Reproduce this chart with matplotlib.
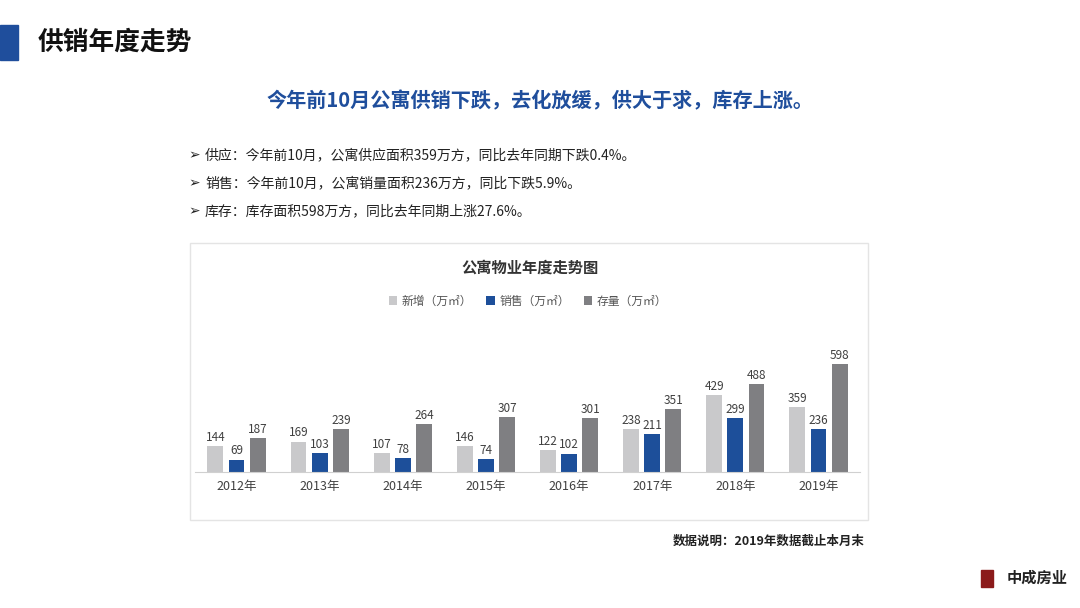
import matplotlib
matplotlib.use("Agg")
import matplotlib.pyplot as plt
from matplotlib.patches import Rectangle
import numpy as np

plt.rcParams["font.family"] = ["Noto Sans CJK SC", "DejaVu Sans"]

years = ["2012年", "2013年", "2014年", "2015年", "2016年", "2017年", "2018年", "2019年"]
new_supply = [144, 169, 107, 146, 122, 238, 429, 359]
sales = [69, 103, 78, 74, 102, 211, 299, 236]
stock = [187, 239, 264, 307, 301, 351, 488, 598]
series_names = ["新增（万㎡）", "销售（万㎡）", "存量（万㎡）"]
colors = ["#c9c9cb", "#1d4f9a", "#7f7f82"]

W, H = 1080, 608
fig = plt.figure(figsize=(10.8, 6.08), dpi=100)
fig.patch.set_facecolor("white")

def fx(x): return x / W
def fy(y): return 1 - y / H

# header
fig.patches.append(Rectangle((0, fy(60)), fx(18), 35 / H, transform=fig.transFigure, color="#1f4e9c"))
fig.text(fx(38), fy(42), "供销年度走势", fontsize=18.5, fontweight="bold", va="center", color="#111111")
fig.text(fx(540), fy(101), "今年前10月公寓供销下跌，去化放缓，供大于求，库存上涨。",
         fontsize=14.5, fontweight="bold", color="#1f4e9c", ha="center", va="center")
bullets = ["供应：今年前10月，公寓供应面积359万方，同比去年同期下跌0.4%。",
           "销售：今年前10月，公寓销量面积236万方，同比下跌5.9%。",
           "库存：库存面积598万方，同比去年同期上涨27.6%。"]
for i, b in enumerate(bullets):
    fig.text(fx(188), fy(155 + 28 * i), "➢", fontsize=10, va="center", color="#222222", fontfamily="DejaVu Sans")
    fig.text(fx(205), fy(155 + 28 * i), b, fontsize=10, va="center", color="#222222")

# chart panel
fig.patches.append(Rectangle((fx(190), fy(520)), fx(678), 277 / H, transform=fig.transFigure,
                             facecolor="white", edgecolor="#e4e4e4", lw=1, zorder=-5))
fig.text(fx(530), fy(268), "公寓物业年度走势图", fontsize=11, fontweight="bold", ha="center", va="center", color="#333333")

ax = fig.add_axes([fx(195), fy(472), fx(665), (472 - 330) / H])
ax.set_zorder(2)
x = np.arange(len(years))
w = 0.19
off = 0.255
for k, (vals, c, name) in enumerate(zip([new_supply, sales, stock], colors, series_names)):
    ax.bar(x + (k - 1) * off, vals, w, color=c, label=name)
    for xi, v in zip(x + (k - 1) * off, vals):
        ax.text(xi, v + 12, str(v), ha="center", va="bottom", fontsize=8.5, color="#404040")
ax.set_xlim(-0.5, 7.5)
ax.set_ylim(0, 788)
ax.set_xticks(x)
ax.set_xticklabels(years, fontsize=9, color="#404040")
ax.tick_params(axis="x", length=0, pad=6)
ax.set_yticks([])
for s in ["top", "right", "left"]:
    ax.spines[s].set_visible(False)
ax.spines["bottom"].set_color("#d0d0d0")
ax.patch.set_alpha(0)
fig.legend(loc="center", bbox_to_anchor=(fx(528), fy(301)), ncol=3, frameon=False, fontsize=8.5,
           handlelength=0.7, handleheight=0.7, columnspacing=1.2, handletextpad=0.4, labelcolor="#555555")

fig.text(fx(865), fy(541), "数据说明：2019年数据截止本月末", fontsize=9, fontweight="bold", ha="right", va="center", color="#222222")
fig.text(fx(1068), fy(578), "中成房业", fontsize=11, fontweight="bold", ha="right", va="center", color="#222222")
fig.patches.append(Rectangle((fx(981), fy(587)), fx(12), 17 / H, transform=fig.transFigure, color="#8b1a1a"))

fig.savefig("out.png", dpi=100)
